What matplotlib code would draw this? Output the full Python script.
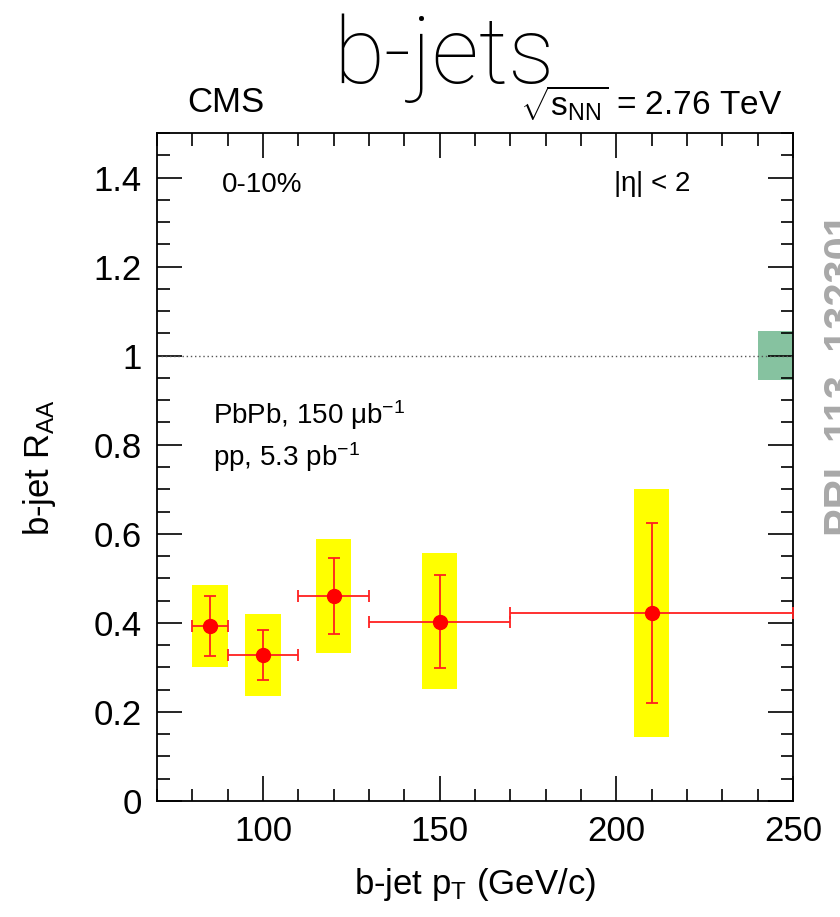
import matplotlib
matplotlib.use("Agg")
import matplotlib.pyplot as plt
from matplotlib.patches import Rectangle
from matplotlib.ticker import MultipleLocator

plt.rcParams['font.family'] = ['Liberation Sans', 'DejaVu Sans']
plt.rcParams['mathtext.fontset'] = 'custom'
plt.rcParams['mathtext.rm'] = 'Liberation Sans'
plt.rcParams['mathtext.it'] = 'Liberation Sans'

# Data
pt = [85, 100, 120, 150, 210]
pt_lo = [80, 90, 110, 130, 170]
pt_hi = [90, 110, 130, 170, 250]
raa = [0.394, 0.327, 0.461, 0.403, 0.422]
stat_lo = [0.326, 0.271, 0.375, 0.299, 0.219]
stat_hi = [0.461, 0.384, 0.545, 0.508, 0.624]
sys_lo = [0.301, 0.235, 0.333, 0.251, 0.144]
sys_hi = [0.484, 0.420, 0.588, 0.557, 0.700]
norm_unc = [0.945, 1.055]
norm_x = [240, 250]
box_halfwidth = 5

fig = plt.figure(figsize=(8.4, 9.17), dpi=100)
ax = fig.add_axes([157/840, 1-801/917, (793-157)/840, (801-133)/917])

ax.set_xlim(70, 250)
ax.set_ylim(0, 1.5)

for x, lo, hi in zip(pt, sys_lo, sys_hi):
    ax.add_patch(Rectangle((x - box_halfwidth, lo), 2*box_halfwidth, hi - lo,
                           facecolor='#ffff00', edgecolor='none', zorder=1))

ax.add_patch(Rectangle((norm_x[0], norm_unc[0]), norm_x[1]-norm_x[0], norm_unc[1]-norm_unc[0],
                       facecolor='#86c2a0', edgecolor='none', zorder=1))

ax.axhline(1.0, color='#555555', linestyle=(0, (1, 2)), linewidth=1.0, zorder=2)

xerr = [[p - l for p, l in zip(pt, pt_lo)], [h - p for p, h in zip(pt, pt_hi)]]
yerr = [[r - l for r, l in zip(raa, stat_lo)], [h - r for r, h in zip(raa, stat_hi)]]
ax.errorbar(pt, raa, xerr=xerr, yerr=yerr, fmt='o', color='#ff0000', ecolor='#ff2020',
            markersize=10, elinewidth=1.3, capsize=4, capthick=1.3, zorder=3, clip_on=False)

ax.xaxis.set_major_locator(MultipleLocator(50))
ax.xaxis.set_minor_locator(MultipleLocator(10))
ax.yaxis.set_major_locator(MultipleLocator(0.2))
ax.yaxis.set_minor_locator(MultipleLocator(0.05))
ax.tick_params(which='both', direction='in', top=True, right=True, width=1.2, labelsize=25)
ax.tick_params(which='major', length=18)
ax.tick_params(which='minor', length=9)
ax.tick_params(axis='y', pad=11)
ax.tick_params(axis='x', pad=10)
ax.set_yticks([0, 0.2, 0.4, 0.6, 0.8, 1.0, 1.2, 1.4])
ax.set_yticklabels(['0', '0.2', '0.4', '0.6', '0.8', '1', '1.2', '1.4'])
ax.set_xticks([100, 150, 200, 250])
ax.set_xticklabels(['100', '150', '200', '250'])
for s in ax.spines.values():
    s.set_linewidth(1.3)

ax.set_xlabel('b-jet p$_{\\mathregular{T}}$ (GeV/c)', fontsize=25)
ax.xaxis.set_label_coords(0.5, -0.097)
ax.set_ylabel('b-jet R$_{\\mathregular{AA}}$', fontsize=25)
ax.yaxis.set_label_coords(-0.155, 0.5)

# Texts
fig.text(444/840, 1-83/917, 'b-jets', fontsize=67, ha='center', va='baseline',
         family=['Roboto', 'Liberation Sans'], fontweight='light')
fig.text(226/840, 1-103/917, 'CMS', fontsize=25, ha='center', va='center')
fig.text(782/840, 1-103/917, r'$\sqrt{\mathregular{s}_{\mathregular{NN}}}$ = 2.76 TeV', fontsize=24,
         ha='right', va='center')
ax.text(0.102, 1 - (185-133)/(801-133), '0-10%', transform=ax.transAxes, fontsize=20, va='center')
ax.text(0.717, 1 - (184-133)/(801-133), r'|$\eta$| < 2', transform=ax.transAxes, fontsize=20, va='center')
ax.text(0.088, 1 - (415-133)/(801-133), r'PbPb, 150 $\mu$b$^{\mathregular{-1}}$', transform=ax.transAxes,
        fontsize=20, va='center')
ax.text(0.088, 1 - (457-133)/(801-133), r'pp, 5.3 pb$^{\mathregular{-1}}$', transform=ax.transAxes,
        fontsize=20, va='center')
fig.text(822/840, 1-375/917, 'PRL 113, 132301', rotation=90, fontsize=30, fontweight='bold',
         color='#a8a8a8', ha='left', va='center')

fig.savefig('out.png', dpi=100)
